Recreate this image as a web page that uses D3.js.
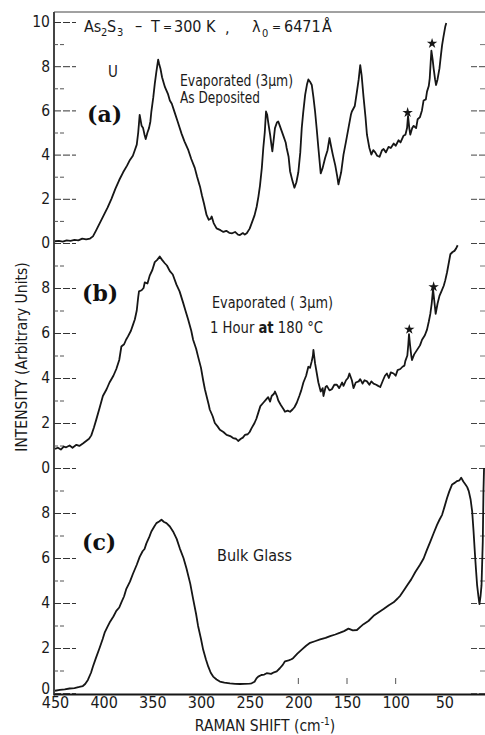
<!DOCTYPE html>
<html>
<head>
<meta charset="utf-8">
<script src="https://cdn.jsdelivr.net/npm/d3@7.9.0/dist/d3.min.js"></script>
<style>
  html, body { margin: 0; padding: 0; background: #fff; }
  svg { display: block; }
  .lbl, .tick text { font-family: "DejaVu Sans Condensed", "Liberation Sans Narrow", sans-serif; fill: #1a1a1a; }
  .tag { font-family: "DejaVu Serif", serif; font-weight: bold; fill: #111; }
</style>
</head>
<body>
<svg id="chart" width="485" height="735"></svg>
<script>
// Raman spectra of As2S3. [shift cm-1, intensity in panel units]
const spectrumA = [
  [450,0.08],[446,0.1],[442,0.06],[438,0.12],[434,0.1],[430,0.14],[426,0.12],[422,0.2],[418,0.16],[414,0.2],
  [411,0.3],[408,0.55],[404,0.9],[400,1.25],[396,1.6],[392,2.0],[388,2.45],[384,2.85],[380,3.2],[376,3.5],
  [373,3.76],[370,3.95],[368,4.2],[366,4.45],[364.5,5.0],[363,5.8],[361,5.3],[359.5,5.2],[358,4.9],[356.8,4.7],
  [355,5.0],[353.4,5.2],[352,5.5],[351,5.95],[349,6.6],[347.5,7.2],[346,7.7],[345,8.0],[344,8.3],[343,8.1],
  [341.7,7.9],[340,7.5],[338,7.2],[337,7.05],[334,6.75],[332,6.45],[330,6.3],[327,5.9],[324,5.5],[320,4.95],
  [317,4.6],[313,4.2],[310,3.8],[306.4,3.4],[304,3.0],[301,2.55],[299,2.15],[297,1.8],[294.3,1.27],[292,1.05],
  [290,1.1],[289,1.2],[287,0.9],[284,0.66],[280,0.58],[277,0.5],[274,0.55],[271,0.46],[268,0.44],[265,0.5],
  [262,0.38],[260,0.36],[257,0.45],[255,0.38],[253,0.44],[250,0.65],[248,0.89],[245,1.25],[242.8,1.64],[241,2.1],
  [239.4,2.6],[237.5,3.4],[236,4.3],[234.5,5.0],[233.2,5.95],[232,5.8],[230.9,5.45],[229,4.9],[227.5,4.4],[226.7,4.15],
  [225,4.8],[224,5.2],[222,5.45],[220.6,5.5],[219,5.3],[217,5.05],[215,4.8],[213,4.55],[212,4.3],[210,3.9],
  [208.5,3.25],[206,2.8],[204,2.5],[202,2.75],[200,3.2],[198,4.1],[196.5,5.2],[195,5.9],[193,6.7],[191,7.2],
  [189.7,7.4],[188,7.3],[186.2,7.15],[184.5,6.6],[182.8,5.95],[181,5.1],[179.4,4.3],[177,3.15],[175,3.4],[172.5,3.85],
  [170,4.2],[168,4.75],[166,4.3],[164.6,4.0],[162,3.5],[160,3.0],[158.8,2.65],[156,3.2],[153.6,4.0],[151,4.6],
  [148.5,5.2],[146,5.8],[145,5.95],[142,6.2],[139.8,6.85],[138,7.4],[136.4,8.05],[135,7.6],[133,6.6],[131,5.7],
  [129.5,4.9],[127,4.3],[125,4.0],[123,4.2],[121,4.1],[119,3.95],[116.6,3.9],[114,4.2],[112.4,4.25],[110,4.1],
  [107.3,4.35],[105,4.3],[102,4.5],[100,4.4],[97,4.65],[95,4.55],[92,4.85],[90,4.9],[88.3,5.2],[87.3,5.75],
  [86,5.2],[85,4.9],[83,5.2],[81.5,5.3],[79,5.2],[77.4,5.6],[75,5.7],[73,6.0],[71.3,6.45],[69,6.5],
  [67.8,6.85],[66,7.1],[65,7.45],[64,8.2],[63.3,8.7],[62,8.3],[61,7.9],[59.5,7.4],[58.5,7.15],[57,7.4],
  [55,7.9],[53.5,8.5],[52.3,8.95],[51,9.3],[49,9.8],[48,9.95]
];

const spectrumB = [
  [450,0.85],[447,0.9],[444,0.82],[441,0.95],[438.5,0.92],[435,1.0],[432,0.9],[428,1.03],[425,0.98],[421,1.1],
  [418,1.2],[415,1.3],[412.7,1.45],[410,1.8],[407.6,2.15],[404,2.7],[400.8,3.2],[397,3.5],[394,3.8],[390,4.1],
  [387,4.4],[384,4.8],[381.8,5.4],[379,5.5],[377,5.7],[375,5.85],[372,6.1],[370,6.35],[368,6.6],[366,7.0],
  [364.5,7.6],[363.7,7.85],[361,7.9],[359,8.0],[357.8,8.25],[355,8.2],[352.7,8.55],[350,8.8],[347.5,9.15],[345,9.25],
  [342.4,9.4],[340,9.25],[337.2,9.1],[335,9.0],[332,8.75],[329,8.6],[325.2,8.15],[322,7.85],[318.4,7.35],[316,7.0],
  [313.2,6.6],[310,6.1],[308.1,5.7],[305,5.3],[303,4.95],[300,4.45],[297.8,3.9],[296,3.5],[294.3,3.2],[292,2.8],
  [291,2.6],[288,2.3],[285.8,2.0],[283,1.85],[280.6,1.7],[277,1.6],[273.7,1.47],[270,1.42],[267,1.33],[264,1.3],
  [261.8,1.2],[259,1.3],[257,1.35],[254.9,1.47],[252,1.5],[250,1.6],[248,1.77],[245,2.0],[243,2.2],[241.2,2.45],
  [239,2.75],[236,2.9],[233,3.05],[231,3.15],[229,2.95],[227.4,3.2],[225,3.3],[224,3.4],[222,3.2],[220.6,3.0],
  [218,2.8],[215,2.6],[213.7,2.5],[211,2.55],[208.5,2.5],[206,2.6],[204,2.7],[201.6,2.9],[199,3.2],[197,3.45],
  [194.8,3.8],[192,4.1],[189.7,4.5],[188,4.45],[186.2,4.75],[185,5.0],[184.5,5.25],[183.5,4.9],[182.8,4.65],[181,4.2],
  [179.4,3.8],[177,3.4],[175,3.55],[174.2,3.2],[172,3.6],[170.7,3.65],[168,3.45],[165.6,3.5],[163,3.7],[160.4,3.7],
  [158,3.55],[155,3.8],[153.6,3.65],[151,3.9],[149,4.0],[147.5,4.2],[145,3.9],[143.3,3.55],[141,3.8],[138,3.85],
  [136.4,3.95],[134,3.75],[132,3.9],[129.5,3.85],[127,3.7],[125,3.85],[122.7,3.75],[120,3.7],[118,3.65],[115.8,3.6],
  [113,3.9],[111,4.1],[109,4.2],[107,4.0],[105,4.25],[102.1,4.2],[100,4.1],[98,4.35],[95.2,4.4],[93,4.5],
  [91,4.55],[90.1,4.75],[88,5.0],[87,5.5],[86.3,5.95],[85.3,5.5],[84,5.0],[83.2,4.8],[81,5.05],[78,5.25],
  [75,5.45],[72.9,5.7],[70,5.9],[67.8,6.15],[66,6.5],[64.4,6.85],[63,7.3],[61.6,7.95],[60,7.3],[58.9,6.85],
  [57,7.3],[55,7.65],[53,7.85],[50.6,8.1],[49,8.35],[47.2,8.7],[45.5,9.1],[43.8,9.5],[41.5,9.6],[39.6,9.65],
  [38,9.75],[36.3,9.9]
];

const spectrumC = [
  [450,0.1],[445,0.14],[440,0.16],[435,0.2],[430,0.22],[425,0.27],[421.4,0.31],[419,0.4],[416.2,0.58],[413,0.9],
  [411,1.18],[408,1.55],[404.2,2.0],[401,2.4],[399,2.68],[396,2.95],[393.9,3.13],[390,3.4],[387,3.65],[384,3.8],
  [381.8,4.03],[379,4.3],[376.7,4.63],[373,4.95],[369.9,5.3],[366,5.7],[363,6.05],[360,6.3],[358,6.4],[356.1,6.65],
  [353,6.95],[351,7.18],[348,7.4],[345.8,7.55],[343,7.62],[340.6,7.7],[338,7.6],[335.5,7.55],[332,7.4],[328.7,7.18],
  [325,6.85],[321.8,6.43],[318,6.0],[314.9,5.53],[311,4.85],[308.1,4.18],[305,3.5],[303,2.98],[300,2.4],[297.8,1.93],
  [295,1.5],[292.6,1.18],[290,0.9],[287.5,0.73],[284,0.6],[280.6,0.51],[276,0.46],[270.3,0.43],[265,0.41],[260,0.4],
  [255,0.41],[250,0.42],[248,0.43],[245,0.5],[243,0.65],[241.2,0.73],[238,0.8],[235,0.82],[232.5,0.88],[228,0.85],
  [225,0.92],[222.2,0.96],[219,1.1],[216,1.25],[213.7,1.41],[210,1.45],[207,1.5],[205.1,1.56],[201,1.75],[196.5,1.93],
  [192,2.1],[187.9,2.23],[183,2.3],[177.6,2.38],[172,2.45],[167.3,2.53],[162,2.6],[157,2.68],[153,2.75],[148.5,2.86],
  [144,2.78],[139.8,2.8],[136,2.95],[133,3.06],[128,3.2],[122.7,3.43],[117,3.6],[112.4,3.73],[107,3.9],[102.1,4.03],
  [98,4.2],[95.2,4.33],[91,4.6],[88.3,4.78],[84,5.05],[79.8,5.38],[75,5.7],[71.3,5.98],[68,6.35],[64.4,6.73],
  [61,7.1],[57.5,7.47],[55,7.7],[52.3,7.92],[50,8.25],[47.2,8.67],[45,8.95],[42,9.27],[39,9.35],[36.9,9.42],
  [34.5,9.45],[32.7,9.57],[30.5,9.4],[28.3,9.27],[26.5,9.15],[24.9,8.97],[23,8.6],[21.4,8.07],[20,7.2],[18.7,6.28],
  [17.5,5.5],[16.3,4.78],[15,4.3],[13.9,3.95],[12.8,4.3],[11.8,4.78],[10.5,6.73],[9.8,8.97],[9.2,10.0]
];

// starred peaks (plasma lines), [shift, height in panel units]
const starsA = [[87.7, 5.9], [62.6, 9.03]];
const starsB = [[86, 6.16], [61, 8.05]];

const shiftTicks = [450, 400, 350, 300, 250, 200, 150, 100, 50, 0];
const innerShiftTicks = [200, 150, 100];
const panelOffsets = { a: 20, b: 10, c: 0 };
const majorY = [0, 2, 4, 6, 8, 10, 12, 14, 16, 18, 20, 22, 24, 26, 28, 30];
const minorY = [1, 3, 5, 7, 9, 11, 13, 15, 17, 19, 21, 23, 25, 27, 29];

const svg = d3.select('#chart');
const frameL = 54, frameR = 485, frameT = 12, frameB = 694.5;

const x = d3.scaleLinear().domain([450, 0]).range([55, 493]);
const y = d3.scaleLinear().domain([0, 10, 20, 30]).range([693, 468, 243, 22]);

const ink = '#161616';

// frame
svg.append('line').attr('x1', frameL).attr('x2', frameL).attr('y1', frameT).attr('y2', frameB + 1)
  .attr('stroke', ink).attr('stroke-width', 1.6);
svg.append('line').attr('x1', frameL).attr('x2', frameR).attr('y1', frameT).attr('y2', frameT)
  .attr('stroke', '#444').attr('stroke-width', 1);
svg.append('line').attr('x1', frameL).attr('x2', frameR).attr('y1', frameB).attr('y2', frameB)
  .attr('stroke', ink).attr('stroke-width', 1.8);

// left axis: labels repeat 0..8 per panel, 10 on top
const yAxis = d3.axisLeft(y).tickValues(majorY).tickSize(-22).tickPadding(4)
  .tickFormat(d => d === 30 ? '10' : String(d % 10));
const gy = svg.append('g').attr('transform', `translate(${frameL},0)`).call(yAxis);
gy.select('.domain').remove();
gy.selectAll('.tick line').attr('stroke', '#333').attr('stroke-dasharray', '7,2');
gy.selectAll('.tick text').attr('font-size', 15.5);
gy.selectAll('.tick').filter(d => d === 0).select('text').attr('dy', '0.05em');

const gyMinor = svg.append('g').attr('transform', `translate(${frameL},0)`)
  .call(d3.axisLeft(y).tickValues(minorY).tickSize(-12).tickFormat(''));
gyMinor.select('.domain').remove();
gyMinor.selectAll('.tick line').attr('stroke', '#555').attr('stroke-dasharray', '4,2');

// right side ticks
const gr = svg.append('g').attr('transform', `translate(${frameR},0)`)
  .call(d3.axisRight(y).tickValues(majorY.filter(d => d < 30)).tickSize(-15).tickFormat(''));
gr.select('.domain').remove();
gr.selectAll('.tick line').attr('stroke', '#444').attr('stroke-dasharray', '6,2');
const grMinor = svg.append('g').attr('transform', `translate(${frameR},0)`)
  .call(d3.axisRight(y).tickValues(minorY).tickSize(-5).tickFormat(''));
grMinor.select('.domain').remove();
grMinor.selectAll('.tick line').attr('stroke', '#777');

// bottom axis labels
const gx = svg.append('g').attr('transform', `translate(0,${frameB})`)
  .call(d3.axisBottom(x).tickValues(shiftTicks).tickSize(0).tickPadding(2).tickFormat(d3.format('d')));
gx.select('.domain').remove();
gx.selectAll('.tick text').attr('font-size', 16);

svg.selectAll('.inner-tick').data(innerShiftTicks).join('line')
  .attr('class', 'inner-tick')
  .attr('x1', d => x(d)).attr('x2', d => x(d))
  .attr('y1', 678).attr('y2', 684)
  .attr('stroke', '#555').attr('stroke-width', 1);

// spectra
const series = [
  { data: spectrumA, off: panelOffsets.a },
  { data: spectrumB, off: panelOffsets.b },
  { data: spectrumC, off: panelOffsets.c }
];
series.forEach(s => {
  const line = d3.line().x(d => x(d[0])).y(d => y(d[1] + s.off));
  svg.append('path').datum(s.data)
    .attr('d', line)
    .attr('fill', 'none')
    .attr('stroke', ink)
    .attr('stroke-width', 1.8)
    .attr('stroke-linejoin', 'round');
});

// stars
const star = d3.symbol().type(d3.symbolStar).size(34);
[[starsA, panelOffsets.a], [starsB, panelOffsets.b]].forEach(([pts, off]) => {
  svg.selectAll(null).data(pts).join('path')
    .attr('d', star)
    .attr('transform', d => `translate(${x(d[0])},${y(d[1] + off)})`)
    .attr('fill', ink);
});

// title line, placed piece by piece
const piece = (txt, px, py, size) => svg.append('text').attr('class', 'lbl')
  .attr('x', px).attr('y', py).attr('font-size', size).text(txt);
piece('As', 84, 32, 16);
piece('2', 101, 36, 11);
piece('S', 107, 32, 16);
piece('3', 117, 36, 11);
piece('–', 135, 31, 16);
piece('T', 151, 32, 16);
piece('=', 163, 31, 12);
piece('300', 174, 32, 16);
piece('K', 206, 32, 16);
piece(',', 225, 33, 16);
piece('λ', 252, 32, 16);
piece('0', 262, 37, 11);
piece('=', 272, 31, 12);
piece('6471', 284, 32, 16);
piece('Å', 322, 32, 16);

svg.append('text').attr('class', 'lbl').attr('x', 108).attr('y', 77).attr('font-size', 15).text('U');

// panel tags
[['(a)', 87, 122], ['(b)', 82, 301], ['(c)', 82, 550]].forEach(([t, tx, ty]) => {
  svg.append('text').attr('class', 'tag').attr('x', tx).attr('y', ty).attr('font-size', 22).text(t);
});

// sample notes
const note = (txt, nx, ny, len) => svg.append('text').attr('class', 'lbl')
  .attr('x', nx).attr('y', ny).attr('font-size', 15)
  .attr('textLength', len).attr('lengthAdjust', 'spacingAndGlyphs').text(txt);
note('Evaporated (3μm)', 180, 86, 113);
note('As Deposited', 180, 103, 80);
note('Evaporated ( 3μm)', 212, 308, 121);
const hour = svg.append('text').attr('class', 'lbl').attr('x', 210).attr('y', 333).attr('font-size', 15)
  .attr('textLength', 113).attr('lengthAdjust', 'spacingAndGlyphs');
hour.append('tspan').text('1 Hour ');
hour.append('tspan').attr('font-weight', 'bold').text('at');
hour.append('tspan').text(' 180 °C');
note('Bulk  Glass', 217, 561, 75);

// axis titles
svg.append('text').attr('class', 'lbl')
  .attr('transform', 'translate(27,357) rotate(-90)')
  .attr('text-anchor', 'middle').attr('font-size', 15.5)
  .text('INTENSITY (Arbitrary Units)');

const xt = svg.append('text').attr('class', 'lbl')
  .attr('x', 265).attr('y', 731).attr('text-anchor', 'middle').attr('font-size', 15.5);
xt.append('tspan').text('RAMAN SHIFT (cm');
xt.append('tspan').attr('dy', -6).attr('font-size', 10).text('-1');
xt.append('tspan').attr('dy', 6).text(')');
</script>
</body>
</html>
